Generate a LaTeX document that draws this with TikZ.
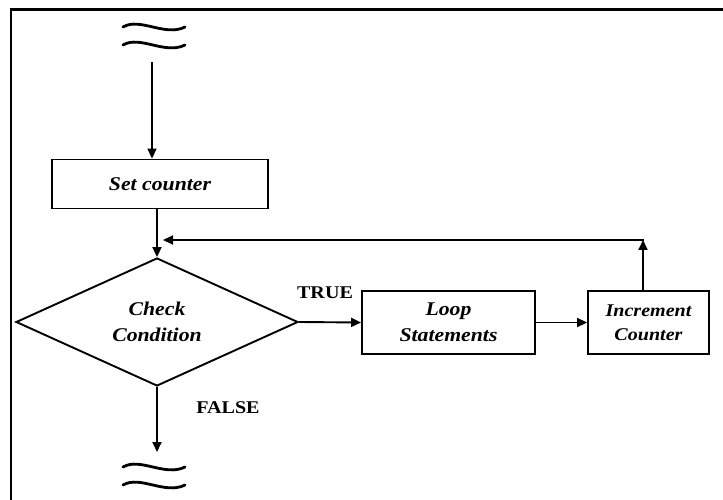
\documentclass[tikz,border=0pt]{standalone}
\usepackage{fontspec}
\setmainfont{Liberation Serif}[FakeStretch=1.12]
\usetikzlibrary{shapes.geometric,arrows.meta}
\begin{document}
\begin{tikzpicture}[x=1bp,y=-1bp,
  line width=1.9bp,
  proc/.style={draw, rectangle, inner sep=0pt, align=center,
    font=\bfseries\itshape\fontsize{19.5}{26}\selectfont},
  decision/.style={draw, diamond, aspect=2.2, inner sep=0pt, align=center,
    font=\bfseries\itshape\fontsize{19.5}{26}\selectfont},
  flow/.style={-{Triangle[length=10bp,width=9bp]}},
  tag/.style={font=\bfseries\fontsize{18}{22}\selectfont, inner sep=0pt},
  wave/.style={line width=2.8bp, line cap=round}]
\useasboundingbox (0,0) rectangle (723,500);

% frame along the left and top edges
\draw[line width=2.6bp] (11,500) -- (11,9.5) -- (723,9.5);

% process steps
\node[proc, minimum width=216bp, minimum height=49bp] (set) at (160,184) {Set counter};
\node[decision, minimum width=282bp, minimum height=128bp] (cond) at (157,322) {Check\\Condition};
\node[proc, minimum width=173bp, minimum height=63bp] (loop) at (448.5,322.5) {Loop\\Statements};
\node[proc, minimum width=121bp, minimum height=63bp,
  font=\bfseries\itshape\fontsize{18}{24}\selectfont] (inc) at (648.5,322.5) {Increment\\Counter};

% branch labels
\node[tag] (true) at (325,293) {TRUE};
\node[tag] (false) at (228,408) {FALSE};

% free ends and bends of the connectors
\coordinate (in) at (152,62);
\coordinate (out) at (157,452);
\coordinate (back) at (643,240);
\coordinate (merge) at (163,240);

% break marks above and below
\foreach \y in {27,45,467,485}
  \draw[wave] (123,\y) .. controls (140,\y-10) and (165,\y+10) .. (185,\y);

% connectors
\draw[flow] (in) -- (in |- set.north);
\draw[flow] (set.south -| cond.north) -- (cond.north);
\draw[flow] (cond.east) -- (loop.west);
\draw[flow] (loop.east) -- (inc.west);
\draw[flow] (inc.north -| back) -- (back);
\draw[flow] ([xshift=1bp]back) -- (merge);
\draw[flow] (cond.south) -- (out);
\end{tikzpicture}
\end{document}
